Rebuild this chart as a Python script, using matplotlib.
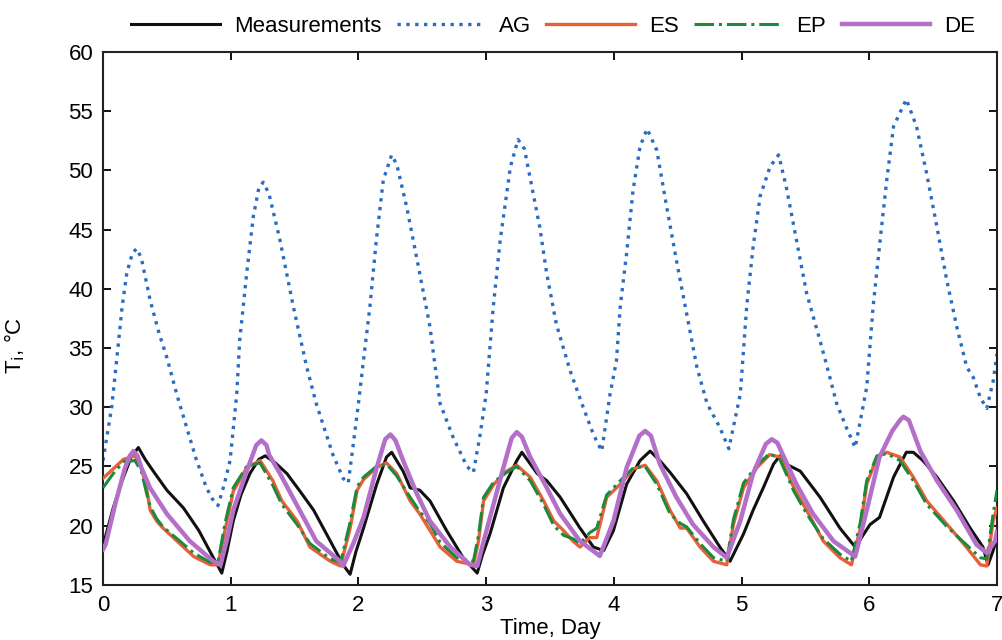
import numpy as np
import matplotlib
matplotlib.use('Agg')
import matplotlib.pyplot as plt

plt.rcParams['font.family'] = ['Liberation Sans', 'DejaVu Sans']

# Measurements (time in days, temperature in deg C)
meas_t = [0, 0.03, 0.08, 0.15, 0.22, 0.277, 0.33, 0.394, 0.5, 0.63, 0.75, 0.864, 0.93, 0.97,
          1.02, 1.08, 1.15, 1.22, 1.27, 1.35, 1.44, 1.55, 1.65, 1.78, 1.88, 1.935, 1.98,
          2.04, 2.143, 2.22, 2.26, 2.35, 2.405, 2.48, 2.56, 2.69, 2.82, 2.93, 2.97,
          3.03, 3.135, 3.24, 3.28, 3.40, 3.475, 3.58, 3.735, 3.84, 3.92, 3.997,
          4.10, 4.205, 4.284, 4.36, 4.44, 4.57, 4.70, 4.83, 4.91,
          5.015, 5.09, 5.17, 5.25, 5.30, 5.35, 5.46, 5.615, 5.77, 5.89,
          6.006, 6.08, 6.19, 6.29, 6.345, 6.42, 6.53, 6.66, 6.79, 6.89, 6.93, 6.97, 7.0]
meas_T = [18.3, 19.5, 21.5, 23.8, 25.8, 26.6, 25.6, 24.6, 23.0, 21.5, 19.6, 17.3, 16.0, 17.8,
          20.4, 22.6, 24.4, 25.6, 25.9, 25.3, 24.4, 22.8, 21.3, 18.7, 16.7, 15.9, 17.8,
          19.8, 23.5, 25.8, 26.2, 24.6, 23.2, 23.0, 22.1, 19.6, 17.3, 16.0, 17.5,
          19.3, 23.2, 25.5, 26.2, 24.4, 23.8, 22.4, 19.8, 18.2, 17.9, 19.6,
          23.5, 25.5, 26.3, 25.5, 24.5, 22.7, 20.4, 18.2, 17.0,
          19.3, 21.3, 23.2, 25.2, 25.9, 25.2, 24.6, 22.4, 19.8, 18.2,
          20.1, 20.7, 24.1, 26.2, 26.2, 25.5, 24.1, 22.1, 19.8, 18.2, 16.7, 17.9, 19.0]

# AG model
ag_t = [0, 0.03, 0.068, 0.107, 0.15, 0.186, 0.23, 0.264, 0.30, 0.37, 0.44, 0.5, 0.58, 0.655,
        0.73, 0.81, 0.87, 0.90, 0.95, 0.995, 1.047, 1.07, 1.125, 1.177, 1.22, 1.255, 1.30,
        1.386, 1.49, 1.595, 1.67, 1.80, 1.88, 1.92, 1.96, 2.0, 2.04, 2.09, 2.14, 2.195,
        2.26, 2.30, 2.378, 2.48, 2.56, 2.60, 2.64, 2.74, 2.85, 2.90, 2.95, 3.0, 3.056,
        3.11, 3.19, 3.25, 3.30, 3.42, 3.474, 3.55, 3.657, 3.76, 3.84, 3.905, 3.97,
        4.02, 4.05, 4.10, 4.15, 4.205, 4.26, 4.336, 4.414, 4.49, 4.57, 4.65, 4.73,
        4.83, 4.90, 4.99, 5.04, 5.09, 5.145, 5.223, 5.29, 5.35, 5.43, 5.51, 5.615,
        5.67, 5.745, 5.82, 5.89, 5.98, 6.03, 6.085, 6.137, 6.19, 6.29, 6.37, 6.45,
        6.53, 6.607, 6.685, 6.763, 6.815, 6.87, 6.92, 6.97, 7.0]
ag_T = [25.5, 27.5, 30.0, 34.0, 38.5, 41.3, 43.0, 43.4, 42.6, 39.0, 36.2, 34.2, 31.0, 28.3,
        25.6, 23.2, 22.0, 21.7, 23.5, 25.5, 31.1, 35.6, 41.3, 46.1, 48.5, 49.0, 48.0,
        44.1, 38.5, 33.4, 30.3, 26.0, 24.0, 23.6, 26.9, 30.3, 34.0, 38.5, 44.1, 49.2,
        51.3, 50.5, 46.9, 41.3, 36.8, 33.5, 30.3, 27.5, 25.0, 24.5, 27.5, 31.1, 38.5,
        44.1, 50.3, 52.6, 51.8, 45.2, 41.3, 37.0, 33.1, 30.0, 27.7, 26.3, 31.1,
        33.9, 38.5, 43.0, 48.3, 52.0, 53.5, 51.7, 46.9, 42.4, 37.9, 33.4, 30.3,
        28.3, 26.5, 31.1, 38.5, 43.5, 47.8, 50.3, 51.3, 48.6, 44.1, 39.6, 35.6,
        33.4, 30.3, 28.3, 26.6, 31.7, 38.5, 44.1, 49.2, 53.7, 56.0, 53.7, 49.7,
        45.2, 40.7, 36.8, 33.4, 32.5, 30.8, 29.9, 32.2, 34.5]

# ES and EP models (same time stamps)
es_t = [0, 0.08, 0.16, 0.25, 0.30, 0.34, 0.37, 0.42, 0.47, 0.58, 0.71, 0.84, 0.90, 0.955,
        1.02, 1.125, 1.23, 1.33, 1.40, 1.52, 1.62, 1.78, 1.86, 1.935, 1.99, 2.04, 2.14,
        2.22, 2.30, 2.405, 2.48, 2.56, 2.64, 2.77, 2.90, 2.94, 2.98, 3.06, 3.16, 3.24,
        3.345, 3.45, 3.53, 3.605, 3.68, 3.735, 3.81, 3.866, 3.944, 4.05, 4.153, 4.245,
        4.336, 4.44, 4.52, 4.57, 4.675, 4.78, 4.884, 4.936, 5.015, 5.12, 5.22, 5.30,
        5.41, 5.51, 5.64, 5.77, 5.86, 5.93, 5.98, 6.06, 6.136, 6.24, 6.345, 6.45,
        6.61, 6.76, 6.87, 6.92, 6.97, 7.0]
es_T = [24.0, 24.8, 25.6, 25.9, 24.9, 23.2, 21.3, 20.4, 19.8, 18.7, 17.4, 16.7, 16.7, 19.6,
        22.9, 24.9, 25.5, 23.8, 22.1, 20.4, 18.2, 17.0, 16.6, 19.8, 23.0, 23.9, 24.9,
        25.3, 24.4, 22.1, 21.0, 19.6, 18.2, 17.0, 16.7, 18.7, 22.1, 23.5, 24.6, 25.1,
        24.1, 22.1, 20.4, 19.6, 18.7, 18.2, 19.0, 19.0, 22.4, 23.5, 24.8, 25.1,
        23.8, 21.3, 19.8, 19.8, 18.2, 17.0, 16.7, 20.1, 23.2, 24.9, 26.0, 25.8,
        23.2, 21.3, 18.7, 17.3, 16.7, 19.8, 23.5, 25.8, 26.2, 25.8, 24.1, 22.1,
        20.1, 18.2, 16.7, 16.6, 20.4, 21.5]
ep_T = [23.2, 24.4, 25.4, 25.5, 24.6, 22.8, 21.6, 20.6, 19.9, 18.9, 17.7, 16.9, 16.9, 20.2,
        23.2, 25.0, 25.3, 23.4, 21.8, 20.1, 18.5, 17.2, 16.9, 20.3, 23.3, 24.1, 25.0,
        25.2, 24.2, 22.4, 21.2, 20.2, 18.6, 17.3, 17.0, 19.2, 22.4, 23.7, 24.5, 25.0,
        23.8, 21.8, 20.0, 19.2, 18.9, 18.5, 19.4, 19.8, 22.6, 23.8, 24.9, 25.0,
        23.5, 21.0, 20.2, 19.9, 18.5, 17.3, 17.0, 20.5, 23.6, 25.1, 26.1, 25.6,
        22.9, 21.0, 18.9, 17.6, 17.0, 20.3, 23.8, 25.9, 26.1, 25.5, 23.8, 21.8,
        19.9, 18.4, 17.3, 17.2, 21.0, 23.0]

# DE model
de_t = [0, 0.02, 0.1, 0.17, 0.21, 0.238, 0.27, 0.30, 0.368, 0.5, 0.68, 0.864, 0.92, 0.97,
        1.02, 1.125, 1.20, 1.24, 1.28, 1.30, 1.386, 1.54, 1.67, 1.856, 1.88, 1.96, 2.04,
        2.143, 2.21, 2.25, 2.29, 2.35, 2.457, 2.56, 2.72, 2.875, 2.93, 3.03, 3.135, 3.20,
        3.24, 3.28, 3.345, 3.475, 3.58, 3.735, 3.89, 3.997, 4.10, 4.20, 4.245, 4.29,
        4.36, 4.49, 4.62, 4.78, 4.884, 4.99, 5.09, 5.19, 5.236, 5.28, 5.34,
        5.43, 5.56, 5.72, 5.89, 5.98, 6.08, 6.18, 6.24, 6.267, 6.31, 6.40, 6.53,
        6.685, 6.84, 6.92, 6.985, 7.0]
de_T = [18.0, 18.4, 22.0, 24.8, 25.9, 26.3, 25.9, 24.9, 23.2, 21.0, 18.7, 17.0, 16.7, 18.8,
        21.3, 24.6, 26.8, 27.2, 26.8, 26.0, 24.4, 21.3, 18.7, 17.0, 16.6, 18.5, 20.7,
        24.9, 27.3, 27.7, 27.2, 25.5, 22.7, 20.4, 18.2, 16.7, 16.6, 20.7, 24.9, 27.4,
        27.9, 27.5, 25.8, 23.2, 21.0, 18.7, 17.45, 20.4, 24.9, 27.6, 28.0, 27.6,
        25.2, 22.4, 20.1, 18.2, 17.3, 20.4, 24.4, 26.9, 27.3, 27.0, 25.6,
        23.5, 21.0, 18.7, 17.4, 21.3, 25.8, 28.0, 28.9, 29.2, 28.9, 26.3, 23.8,
        21.3, 18.4, 17.7, 18.7, 19.5]

fig = plt.figure(figsize=(10.02, 6.4), dpi=100)
ax = fig.add_axes([0.1028, 0.086, 0.8922, 0.833])

ax.plot(meas_t, meas_T, color='#111111', lw=2.2, label='Measurements', zorder=3)
ax.plot(ag_t, ag_T, color='#2a6cc0', lw=2.4, ls=':', label='AG', zorder=2)
ax.plot(es_t, es_T, color='#e8603a', lw=2.4, label='ES', zorder=4)
ax.plot(es_t, ep_T, color='#1b8a3c', lw=2.2, ls='-.', label='EP', zorder=5)
ax.plot(de_t, de_T, color='#b46fc8', lw=3.2, label='DE', zorder=6)

ax.set_xlim(0, 7)
ax.set_ylim(15, 60)
ax.set_xticks(range(0, 8))
ax.set_yticks(range(15, 61, 5))
ax.tick_params(direction='in', top=True, right=True, length=6, width=1.3,
               labelsize=16, pad=7)
for s in ax.spines.values():
    s.set_linewidth(1.5)
    s.set_color('#222222')

ax.set_xlabel('Time, Day', fontsize=16, labelpad=2)
ax.set_ylabel(r'T$_\mathrm{i}$, °C', fontsize=16)
ax.yaxis.set_label_coords(-0.085, 0.45)

fig.legend(loc='center', bbox_to_anchor=(0.552, 0.959), ncol=5, frameon=False,
           fontsize=16, handlelength=4.0, columnspacing=0.7, handletextpad=0.6)

fig.savefig('out.png', dpi=100)
